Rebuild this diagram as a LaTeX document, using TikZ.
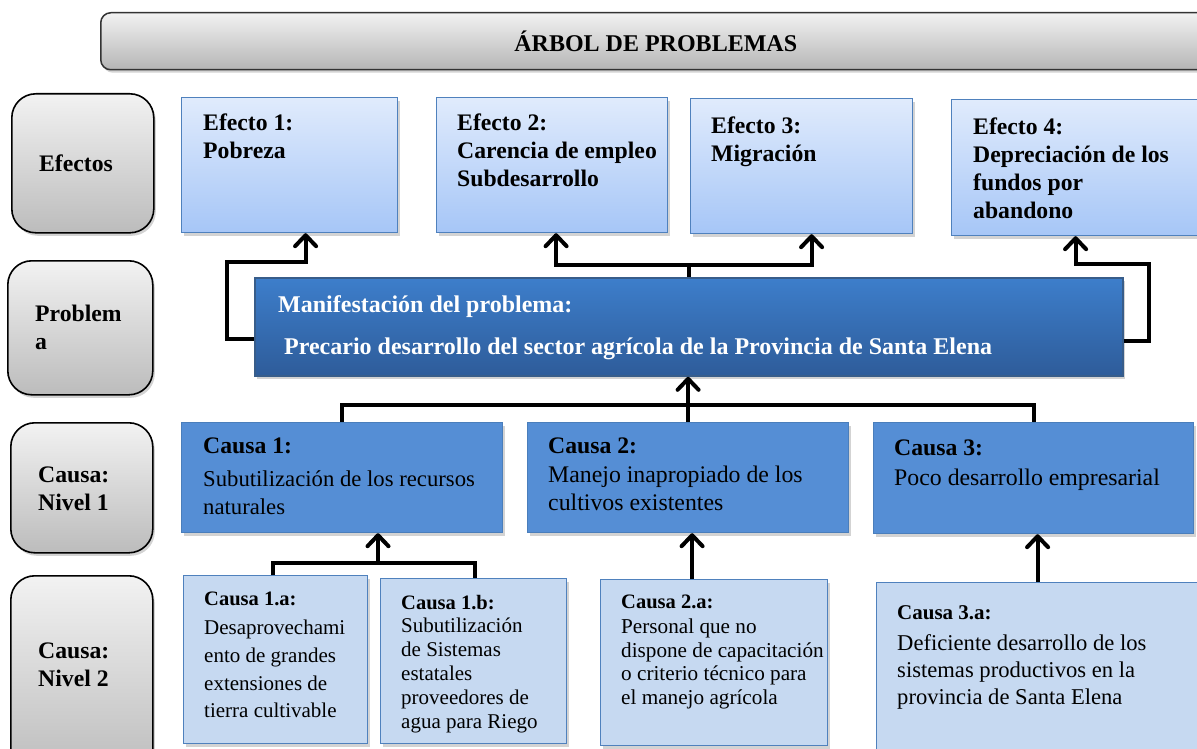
\documentclass[tikz,border=0pt]{standalone}
\usepackage{fontspec}
\setmainfont{Liberation Serif}
\usetikzlibrary{arrows.meta,shadows,calc}
\definecolor{labtop}{RGB}{242,242,242}
\definecolor{labbot}{RGB}{188,188,188}
\definecolor{efftop}{RGB}{224,235,252}
\definecolor{effbot}{RGB}{166,198,247}
\definecolor{effbd}{RGB}{79,129,189}
\definecolor{probtop}{RGB}{61,126,203}
\definecolor{probbot}{RGB}{46,92,154}
\definecolor{probbd}{RGB}{56,93,138}
\definecolor{cfill}{RGB}{85,142,213}
\definecolor{cbd}{RGB}{74,126,187}
\definecolor{dfill}{RGB}{198,217,241}
\definecolor{dbd}{RGB}{79,129,189}
\newcommand\ftitle{\fontsize{24}{28}\selectfont\bfseries}
\newcommand\feff{\fontsize{23.7}{28}\selectfont\bfseries}
\newcommand\fprob{\fontsize{24}{28}\selectfont\bfseries}
\newcommand\fcause{\fontsize{22.7}{28}\selectfont}
\newcommand\fcausb{\fontsize{23.8}{28}\selectfont}
\tikzset{
  shad/.style={drop shadow={opacity=0.35,shadow xshift=2pt,shadow yshift=-3pt}},
  labbox/.style={draw=black,line width=1.6pt,rounded corners=24pt,top color=labtop,bottom color=labbot,anchor=north west,inner sep=0,shad},
  effbox/.style={draw=effbd,line width=1.2pt,top color=efftop,bottom color=effbot,anchor=north west,inner sep=0,shad},
  probbox/.style={draw=probbd,line width=1.8pt,top color=probtop,bottom color=probbot,anchor=north west,inner sep=0,shad},
  cbox/.style={draw=cbd,line width=1.2pt,fill=cfill,anchor=north west,inner sep=0,shad},
  dbox/.style={draw=dbd,line width=1.2pt,fill=dfill,anchor=north west,inner sep=0,shad},
  txt/.style={anchor=north west,inner sep=0,align=left},
  wire/.style={line width=4pt,line join=miter},
  conn/.style={wire,-{Straight Barb[length=11pt,width=21pt,round]}},
}
\begin{document}
\begin{tikzpicture}[x=1pt,y=-1pt]
\useasboundingbox (0,0) rectangle (1197,749);
% title
\node[draw=black!80,line width=1.5pt,rounded corners=10pt,top color=labtop,bottom color=labbot!110,anchor=north west,minimum width=1110pt,minimum height=57pt,inner sep=0,shad,font=\ftitle] (title) at (100,12) {ÁRBOL DE PROBLEMAS};
% left labels
\node[labbox,minimum width=142pt,minimum height=139pt] (lab1) at (11,93) {};
\node[font=\feff,inner sep=0] (lab1t) at (76,163) {Efectos};
\node[labbox,minimum width=145pt,minimum height=134pt] (lab2) at (7,260) {};
\node[txt,font=\feff] (lab2t) at (35,305) {Problem\\a};
\node[labbox,minimum width=142pt,minimum height=130pt] (lab3) at (10,422) {};
\node[txt,font=\feff] (lab3t) at (38,467) {Causa:\\Nivel 1};
\node[labbox,minimum width=142pt,minimum height=200pt] (lab4) at (10,575) {};
\node[txt,font=\feff] (lab4t) at (38,643) {Causa:\\Nivel 2};
% effects
\node[effbox,minimum width=216pt,minimum height=135pt] (e1) at (181,97) {};
\node[txt,font=\feff] (e1t) at (203,114) {Efecto 1:\\Pobreza};
\node[effbox,minimum width=231pt,minimum height=135pt] (e2) at (436,97) {};
\node[txt,font=\feff] (e2t) at (457,114) {Efecto 2:\\Carencia de empleo\\Subdesarrollo};
\node[effbox,minimum width=222pt,minimum height=135pt] (e3) at (690,98) {};
\node[txt,font=\feff] (e3t) at (711,117) {Efecto 3:\\Migración};
\node[effbox,minimum width=250pt,minimum height=136pt] (e4) at (951,99) {};
\node[txt,font=\feff] (e4t) at (973,118) {Efecto 4:\\Depreciación de los\\fundos por\\abandono};
% problem
\node[probbox,minimum width=868pt,minimum height=98pt] (p) at (254,277) {};
\node[txt,font=\fprob,text=white] (pt1) at (278,295) {Manifestación del problema:};
\node[txt,font=\fprob,text=white] (pt2) at (284,338) {Precario desarrollo del sector agrícola de la Provincia de Santa Elena};
% causes level 1
\node[cbox,minimum width=321pt,minimum height=110pt] (c1) at (181,422) {};
\node[txt,font=\feff] (c1h) at (203,438) {Causa 1:};
\node[txt,font=\fcause] (c1t) at (203,471) {Subutilización de los recursos\\naturales};
\node[cbox,minimum width=321pt,minimum height=110pt] (c2) at (527,422) {};
\node[txt,font=\feff] (c2h) at (548,438) {Causa 2:};
\node[txt,font=\fcausb] (c2t) at (548,466) {Manejo inapropiado de los\\cultivos existentes};
\node[cbox,minimum width=320pt,minimum height=111pt] (c3) at (873,422) {};
\node[txt,font=\feff] (c3h) at (894,440) {Causa 3:};
\node[txt,font=\fcausb] (c3t) at (894,469) {Poco desarrollo empresarial};
% causes level 2
\node[dbox,minimum width=184pt,minimum height=168pt] (d1a) at (183,575) {};
\node[txt,font=\fontsize{20.5}{27.7}\selectfont\bfseries] (d1ah) at (204,592) {Causa 1.a:};
\node[txt,font=\fontsize{21}{27.7}\selectfont] (d1at) at (204,620) {Desaprovechami\\ento de grandes\\extensiones de\\tierra cultivable};
\node[dbox,minimum width=186pt,minimum height=165pt] (d1b) at (380,578) {};
\node[txt,font=\fontsize{20.5}{24}\selectfont\bfseries] (d1bh) at (401,595) {Causa 1.b:};
\node[txt,font=\fontsize{21}{24}\selectfont] (d1bt) at (401,618) {Subutilización\\de Sistemas\\estatales\\proveedores de\\agua para Riego};
\node[dbox,minimum width=227pt,minimum height=166pt] (d2a) at (600,579) {};
\node[txt,font=\fontsize{20.5}{23.5}\selectfont\bfseries] (d2ah) at (621,595) {Causa 2.a:};
\node[txt,font=\fontsize{21.2}{23.5}\selectfont] (d2at) at (621,619) {Personal que no\\dispone de capacitación\\o criterio técnico para\\el manejo agrícola};
\node[dbox,minimum width=330pt,minimum height=190pt] (d3a) at (876,582) {};
\node[txt,font=\fontsize{21}{27}\selectfont\bfseries] (d3ah) at (897,605) {Causa 3.a:};
\node[txt,font=\fontsize{22.6}{27}\selectfont] (d3at) at (897,634) {Deficiente desarrollo de los\\sistemas productivos en la\\provincia de Santa Elena};
% bend points
\coordinate (lb) at (227,262);
\coordinate (mb) at (688,265);
\coordinate (rb) at (1149,264);
\coordinate (cb) at (688,405);
\coordinate (l2b) at (378,563);
% effects connectors
\draw[conn] ([yshift=-12pt]p.west) -| (lb) -| ([xshift=16pt]e1.south);
\draw[wire] (p.north) -- (p.north |- mb);
\draw[conn] (p.north |- mb) -| ([xshift=4pt]e2.south);
\draw[conn] (p.north |- mb) -| ([xshift=10pt]e3.south);
\draw[conn] ([yshift=-14pt]p.east) -| (rb) -| ([xshift=-1pt]e4.south);
% causes level 1 connectors
\draw[wire] (c1.north) |- (c3.north |- cb) -- (c3.north);
\draw[conn] (c2.north) -- (c2.north |- p.south);
% causes level 2 connectors
\draw[wire] ([xshift=-3pt]d1a.north) |- ([xshift=1pt]d1b.north |- l2b) -- ([xshift=1pt]d1b.north);
\draw[conn] (l2b) -- (l2b |- c1.south);
\draw[conn] ([xshift=-22pt]d2a.north) -- ([xshift=-22pt]d2a.north |- c2.south);
\draw[conn] ([xshift=-4pt]d3a.north) -- ([xshift=-4pt]d3a.north |- c3.south);
\end{tikzpicture}
\end{document}
